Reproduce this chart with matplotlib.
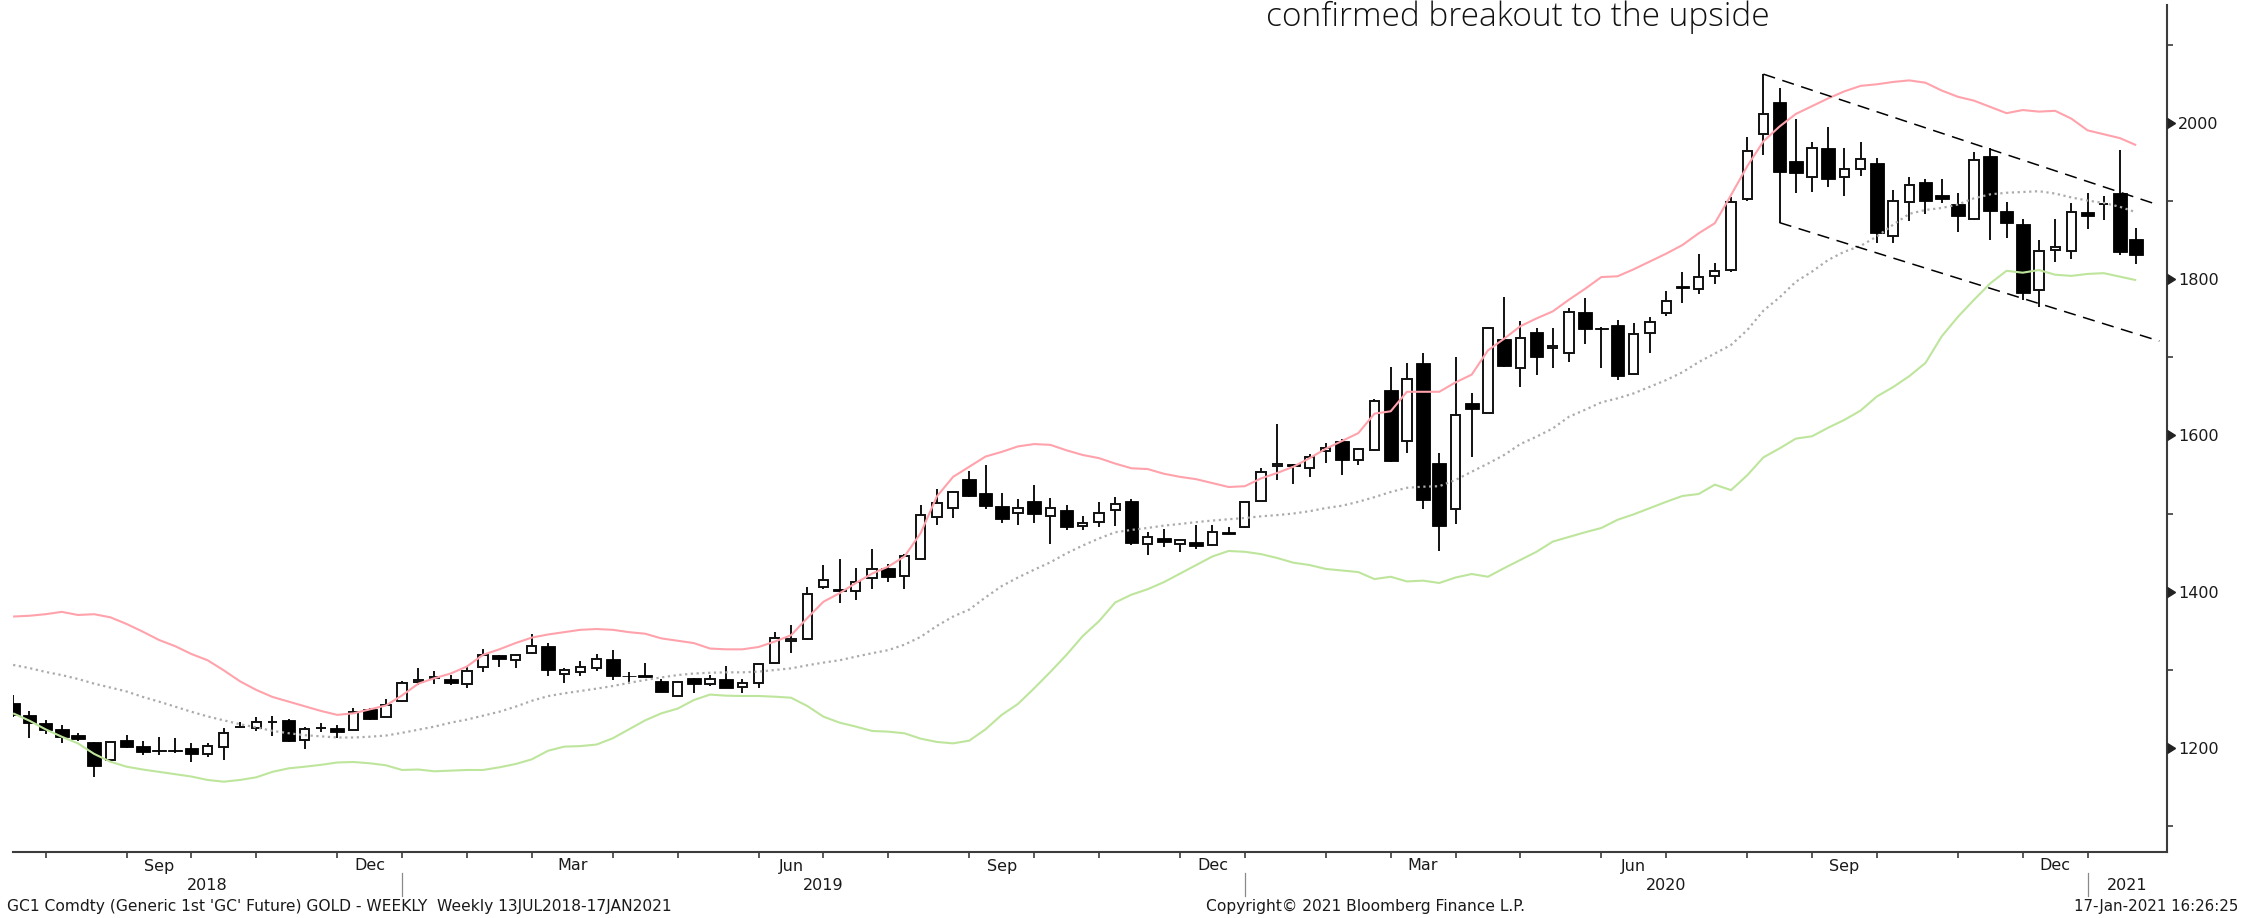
import matplotlib
matplotlib.use('Agg')
import matplotlib.pyplot as plt
import matplotlib.dates as mdates
import matplotlib.transforms as mtransforms
import numpy as np
import pandas as pd

# ---------------- data (weekly GC1 bars) ----------------
start_date = '2018-07-13'
n_bars = 132

opens = [
1257, 1242, 1232, 1223.5, 1216, 1207, 1184, 1210, 1202, 1196.5,
1196.5, 1200, 1191.5, 1201.3, 1226, 1225, 1232.5, 1235.5, 1210, 1225,
1225.5, 1222.5, 1250, 1239.7, 1259.8, 1283.5, 1289.5, 1288.4, 1281, 1303,
1318.3, 1312.3, 1320.9, 1330.3, 1294.4, 1297.4, 1302.5, 1313.2, 1291.6, 1293,
1285.8, 1266.2, 1288.8, 1281.1, 1287.6, 1278.2, 1283.3, 1308.1, 1336.7, 1338.8,
1406.3, 1403.3, 1401.2, 1417.8, 1429.8, 1420, 1441.3, 1496, 1507.5, 1544.2,
1526.7, 1509.6, 1501.1, 1516.3, 1496.5, 1505, 1484, 1489.6, 1504.5, 1516.5,
1461, 1468.2, 1461, 1463.1, 1459.7, 1475.8, 1482.8, 1516.3, 1561.5, 1563.3,
1557.9, 1580.6, 1593, 1569, 1581, 1658.7, 1592.5, 1693.3, 1565.2, 1506.2,
1642.1, 1629.2, 1723.2, 1686, 1733, 1712.5, 1706.1, 1758.6, 1738.1, 1741.6,
1678.8, 1730.9, 1756.5, 1791.5, 1787.7, 1804.4, 1812, 1902.6, 1986.3, 2027.7,
1951.7, 1931.6, 1967.9, 1931.6, 1941.4, 1949.6, 1856, 1899.6, 1924.4, 1908.1,
1896.2, 1877.4, 1958.1, 1887.6, 1871, 1786.4, 1837.7, 1836.4, 1885.9, 1896.5,
1910.3, 1851.8]

highs = [
1267, 1247, 1235, 1229, 1218.5, 1207.5, 1208, 1216, 1208, 1214,
1213, 1205.5, 1206.5, 1225, 1233, 1239, 1240, 1236.5, 1227, 1231,
1229, 1250.5, 1250.5, 1262, 1285.4, 1301.6, 1298, 1293, 1303.8, 1326.4,
1318.6, 1320, 1345.2, 1333.7, 1301.6, 1311.5, 1320, 1325.2, 1297.4, 1309,
1287.5, 1284.8, 1289, 1293.1, 1305, 1287.6, 1306.8, 1348.6, 1357.2, 1406.3,
1434, 1442.2, 1429.8, 1455, 1434.9, 1448.2, 1510.9, 1531, 1528.5, 1554.9,
1562.2, 1526.7, 1518.2, 1536.6, 1520, 1511.5, 1496.5, 1515.2, 1520.8, 1519,
1476.8, 1480.2, 1467, 1485.3, 1485.3, 1483, 1515.5, 1557.9, 1615, 1563.5,
1576.7, 1590, 1595, 1583.5, 1646.8, 1688.2, 1693.3, 1705.3, 1577.1, 1700.1,
1654, 1738.5, 1777, 1747.1, 1737.3, 1737.3, 1762.9, 1776.6, 1738.5, 1748,
1744.6, 1751.4, 1785.1, 1809.9, 1832.1, 1821.4, 1906, 1982.9, 2063.2, 2044.8,
2005.1, 1976.5, 1994.8, 1967.9, 1976.5, 1956, 1914.5, 1931.6, 1928.6, 1928.6,
1910.3, 1963.6, 1967.9, 1899.6, 1876.9, 1850.5, 1876.9, 1898.3, 1910.3, 1906.8,
1965.8, 1865.4]

lows = [
1239, 1213, 1217, 1205.5, 1208, 1163, 1183, 1199, 1190, 1190,
1192.7, 1181, 1187.5, 1184, 1225, 1221, 1215, 1207, 1198, 1219.5,
1213, 1222, 1236, 1239, 1259, 1280.3, 1281, 1280.3, 1276, 1297.4,
1303.8, 1302.5, 1320, 1292, 1282.4, 1292.3, 1298.7, 1286.7, 1281.1, 1290,
1271.7, 1266, 1269.6, 1279, 1276, 1270.5, 1276, 1308, 1320.9, 1338.5,
1402.9, 1385.8, 1389.2, 1402.9, 1412.7, 1402.9, 1441, 1485.3, 1493.8, 1520.8,
1505.4, 1487.4, 1485.3, 1487.4, 1461, 1478.5, 1478.5, 1483.2, 1484.5, 1459.7,
1446.9, 1457.5, 1450.3, 1454.1, 1459, 1473.7, 1481, 1516, 1543.5, 1538,
1547.2, 1564.3, 1549.4, 1562.2, 1580.5, 1565.8, 1577.5, 1505.4, 1452.4, 1486.6,
1572.9, 1628.4, 1688.2, 1662.5, 1677.5, 1686, 1694.6, 1717.2, 1686, 1671.1,
1677.5, 1706.1, 1753.1, 1769.3, 1781.3, 1794.1, 1810, 1900.9, 1959.4, 1872.7,
1911.1, 1912.4, 1917.9, 1907.3, 1932.5, 1846.2, 1846.2, 1875.2, 1883.8, 1898.3,
1861.1, 1876.1, 1850.5, 1852.6, 1773.6, 1765, 1821.8, 1825.7, 1864.1, 1875.5,
1831.2, 1819.5]

closes = [
1242, 1231, 1223, 1214, 1211.5, 1176.5, 1206.8, 1201, 1194.5, 1196,
1196, 1191.5, 1202, 1218.4, 1227, 1233, 1233, 1208, 1223.5, 1225,
1219.5, 1246, 1236.3, 1254.7, 1283.3, 1286.7, 1290, 1282.4, 1298.2, 1318.3,
1314, 1318.7, 1330.3, 1299, 1299.5, 1302.9, 1313.2, 1292.3, 1291.2, 1291,
1271.7, 1284.6, 1281.1, 1287.6, 1276, 1283.3, 1306.8, 1340.9, 1339.6, 1396.9,
1414.8, 1401.2, 1412.7, 1428.5, 1419.1, 1445.6, 1498.1, 1513.1, 1528, 1522.5,
1509.6, 1492.6, 1507.5, 1499.4, 1506.5, 1482.8, 1488.3, 1500.3, 1511.8, 1461.8,
1470.4, 1464, 1466.1, 1458.8, 1475.9, 1473.8, 1515.2, 1553.6, 1563.5, 1561,
1572.9, 1583.5, 1568.6, 1583, 1644.6, 1567, 1673, 1517.3, 1484, 1626.2,
1633.9, 1738.1, 1689, 1724.5, 1701, 1714.7, 1757.8, 1736, 1736, 1676.2,
1729.6, 1745.8, 1772.7, 1789.4, 1802.6, 1811.2, 1899.6, 1964.9, 2011.5, 1937.2,
1935.9, 1967.9, 1928.2, 1941.4, 1954.2, 1859.9, 1900.4, 1920.9, 1900.9, 1902.6,
1881.2, 1953, 1887.6, 1872.7, 1783, 1836.4, 1841.1, 1885.9, 1881.2, 1897,
1835.5, 1831.2]

# Bollinger bands as drawn (upper / middle / lower)
bb_upper = [
1368, 1369, 1371, 1374, 1370, 1371, 1367, 1358.5, 1348.6, 1338,
1330, 1320, 1312, 1299, 1285, 1274, 1265, 1259, 1253, 1247,
1242, 1244, 1249, 1254, 1267, 1282, 1289, 1295, 1304, 1319,
1326, 1334, 1341, 1345, 1348, 1351, 1352, 1351, 1348, 1346,
1340, 1337, 1334, 1327, 1326, 1326, 1329, 1336, 1344, 1366,
1387, 1398, 1411, 1423, 1432, 1445, 1475, 1522, 1547, 1560,
1573, 1579, 1586, 1589, 1588, 1581, 1575, 1571, 1564, 1558,
1557, 1551, 1547, 1544, 1539, 1534, 1535, 1545, 1552, 1560,
1571, 1583, 1593, 1603, 1628, 1631, 1656, 1656, 1656, 1668,
1678, 1709, 1724, 1740, 1750, 1759, 1774, 1788, 1803, 1804,
1813, 1823, 1833, 1844, 1859, 1872, 1908, 1945, 1977, 1996,
2012, 2022, 2032, 2041, 2048, 2050, 2053, 2055, 2052, 2042,
2034, 2029, 2021, 2013, 2017, 2015, 2016, 2006, 1991, 1986,
1981, 1972]

bb_middle = [
1306, 1302, 1297, 1293, 1288, 1282, 1277, 1272, 1265, 1259,
1252.5, 1246, 1240, 1235, 1230, 1226, 1221.5, 1218.5, 1216, 1214.5,
1213, 1213, 1214, 1215.5, 1219, 1223, 1227, 1232, 1236, 1241,
1246, 1252.5, 1260, 1266, 1269.6, 1272.6, 1275.6, 1279, 1283, 1286.7,
1290, 1293, 1295, 1296, 1296.5, 1296.5, 1297.4, 1299.5, 1301.6, 1305.5,
1309, 1312, 1316.6, 1321, 1325, 1332, 1342, 1356, 1368, 1377,
1392.6, 1407, 1418, 1428, 1437.5, 1449, 1459, 1468, 1476, 1479,
1481.5, 1484.5, 1486.6, 1489, 1491, 1492.6, 1494.3, 1496.4, 1498, 1500,
1503, 1507, 1510, 1515, 1521, 1527.6, 1533, 1534.4, 1535, 1543,
1553.6, 1564, 1575, 1589, 1598.5, 1609, 1624, 1633, 1642.5, 1647.6,
1654, 1662.5, 1671, 1681, 1694, 1705, 1716, 1735, 1760, 1777,
1797, 1810, 1825, 1835.5, 1843, 1855, 1870, 1884, 1889, 1891.5,
1896, 1904, 1909, 1911, 1912, 1913, 1910, 1905, 1901, 1898,
1893, 1886]

bb_lower = [
1244, 1234.6, 1223.5, 1214, 1205.5, 1192, 1182, 1175.6, 1172, 1169,
1166, 1163, 1158.6, 1156.4, 1158.6, 1162, 1169, 1173.5, 1175.6, 1178,
1181, 1181.6, 1180, 1177.4, 1171.4, 1172, 1169.7, 1170.5, 1171.4, 1171.4,
1174.8, 1179, 1185, 1196, 1201.3, 1202, 1204, 1212, 1223.5, 1235,
1244, 1250, 1261, 1268, 1266.6, 1266.2, 1266.2, 1265.3, 1264, 1253.4,
1239.7, 1232, 1227, 1221.4, 1220.5, 1218.4, 1211.5, 1207.3, 1205.5, 1209,
1223.5, 1242, 1256, 1276, 1297, 1319, 1343, 1362, 1386, 1396,
1403, 1412, 1423, 1434, 1445, 1452, 1451, 1448, 1443, 1437,
1434, 1429, 1427, 1425, 1416, 1419, 1413, 1414, 1411, 1418,
1422.5, 1419, 1430, 1440.5, 1451, 1464, 1470, 1476, 1481.5, 1492,
1499, 1507, 1515, 1522.5, 1525, 1537, 1530, 1549, 1572, 1583.5,
1596, 1599, 1610, 1620, 1632, 1650, 1662, 1676, 1693, 1727,
1752, 1774, 1795, 1811, 1808.6, 1812, 1806, 1804.5, 1807, 1808,
1803.5, 1799]

# hand-drawn channel lines (start / end)
trend_upper_dates = ['2020-08-07', '2021-01-25']
trend_upper_vals = [2063, 1895]
trend_lower_dates = ['2020-08-14', '2021-01-25']
trend_lower_vals = [1872.7, 1721]

y_major = [1200, 1400, 1600, 1800, 2000]
y_minor = [1100, 1300, 1500, 1700, 1900, 2100]
quarter_labels = {3: 'Mar', 6: 'Jun', 9: 'Sep', 12: 'Dec'}
years = [2018, 2019, 2020, 2021]

title_text = 'confirmed breakout to the upside'
footer_left = "GC1 Comdty (Generic 1st 'GC' Future) GOLD - WEEKLY  Weekly 13JUL2018-17JAN2021"
footer_mid = 'Copyright\u00a9 2021 Bloomberg Finance L.P.'
footer_right = '17-Jan-2021 16:26:25'

# ---------------- figure ----------------
W, H = 2244, 918
fig = plt.figure(figsize=(W / 100, H / 100), dpi=100, facecolor='white')
ax_l, ax_r, ax_t, ax_b = 12.9, 2166.5, 5, 852
ax = fig.add_axes([ax_l / W, 1 - ax_b / H, (ax_r - ax_l) / W, (ax_b - ax_t) / H])
ax.set_facecolor('white')

dates = pd.date_range(start_date, periods=n_bars, freq='7D')
x = mdates.date2num(dates)
o = np.array(opens); h = np.array(highs); l = np.array(lows); c = np.array(closes)
assert len(o) == len(h) == len(l) == len(c) == n_bars
assert len(bb_upper) == len(bb_middle) == len(bb_lower) == n_bars

up = c >= o
ink = '#111111'
ax.vlines(x, l, h, color=ink, lw=1.4, zorder=2)
ax.bar(x[up], (c - o)[up], bottom=o[up], width=4.0, facecolor='white',
       edgecolor=ink, linewidth=1.4, zorder=3)
ax.bar(x[~up], (o - c)[~up], bottom=c[~up], width=5.9, facecolor='black',
       edgecolor='black', linewidth=0.6, zorder=3)

ax.plot(x, bb_upper, color='#FFA2AB', lw=1.5, zorder=4, solid_capstyle='butt')
ax.plot(x, bb_lower, color='#BEE59C', lw=1.5, zorder=4, solid_capstyle='butt')
ax.plot(x, bb_middle, color='#ABABAB', lw=1.6, ls=(0, (1.0, 1.6)), zorder=4)

ax.plot(mdates.date2num(pd.to_datetime(trend_upper_dates)), trend_upper_vals,
        color='black', lw=1.1, ls=(0, (8, 5)), zorder=5)
ax.plot(mdates.date2num(pd.to_datetime(trend_lower_dates)), trend_lower_vals,
        color='black', lw=1.1, ls=(0, (8, 5)), zorder=5)

xlim = (x[0] - 0.1, x[-1] + 13.1)
ax.set_xlim(*xlim)
ax.set_ylim(1066.3, 2151.6)

axis_col = '#3c3c3c'
for s in ('left', 'top'):
    ax.spines[s].set_visible(False)
for s in ('bottom', 'right'):
    ax.spines[s].set_color(axis_col)
    ax.spines[s].set_linewidth(1.5)

# y axis on the right
ax.yaxis.tick_right()
ax.set_yticks(y_major)
ax.set_yticks(y_minor, minor=True)
ax.set_yticklabels([str(v) for v in y_major])
ax.tick_params(axis='y', which='major', length=0, pad=8.5, labelsize=11.5,
               labelcolor='#1a1a1a')
ax.tick_params(axis='y', which='minor', length=4, width=1.2, color=axis_col,
               direction='out')
trans_y = mtransforms.blended_transform_factory(ax.transAxes, ax.transData)
ax.plot([1.0] * len(y_major), y_major, ls='none', marker=9, ms=7.5,
        color='#222222', transform=trans_y, clip_on=False, zorder=6)

# x axis: ticks at the last bar of each month
month_end_idx = [i for i in range(n_bars - 1) if dates[i].month != dates[i + 1].month]
ax.set_xticks(x[month_end_idx])
ax.set_xticklabels([])
ax.tick_params(axis='x', which='major', length=4.5, width=1.2, color=axis_col,
               direction='out')

trans_x = mtransforms.blended_transform_factory(ax.transData, fig.transFigure)
txt_col = '#1a1a1a'
lab_kw = dict(fontsize=11.5, color=txt_col, ha='center', va='center', transform=trans_x)
y_month = 1 - 866 / H
y_year = 1 - 885 / H
y_foot = 1 - 906 / H

prev = xlim[0]
for k in month_end_idx:
    m = dates[k].month
    if m in quarter_labels:
        ax.text((prev + x[k]) / 2, y_month, quarter_labels[m], **lab_kw)
    prev = x[k]

year_edges = [xlim[0]] + [x[k] for k in month_end_idx if dates[k].month == 12] + [xlim[1]]
for i, yr in enumerate(years):
    ax.text((year_edges[i] + year_edges[i + 1]) / 2, y_year, str(yr), **lab_kw)
for xe in year_edges[1:-1]:
    ax.plot([xe, xe], [1 - 873 / H, 1 - 896 / H], color='#8a8a8a', lw=0.9,
            transform=trans_x, clip_on=False)

fig.text(7 / W, y_foot, footer_left, ha='left', va='center', fontsize=11.2, color=txt_col)
fig.text(1206 / W, y_foot, footer_mid, ha='left', va='center', fontsize=11.2, color=txt_col)
fig.text(2238 / W, y_foot, footer_right, ha='right', va='center', fontsize=10.8, color=txt_col)

fig.text(1266 / W, 1 - 0 / H, title_text, ha='left', va='top', fontsize=24,
         family=['Open Sans', 'DejaVu Sans'], weight='light', color='#111111')

fig.savefig('out.png', dpi=100, facecolor='white')
